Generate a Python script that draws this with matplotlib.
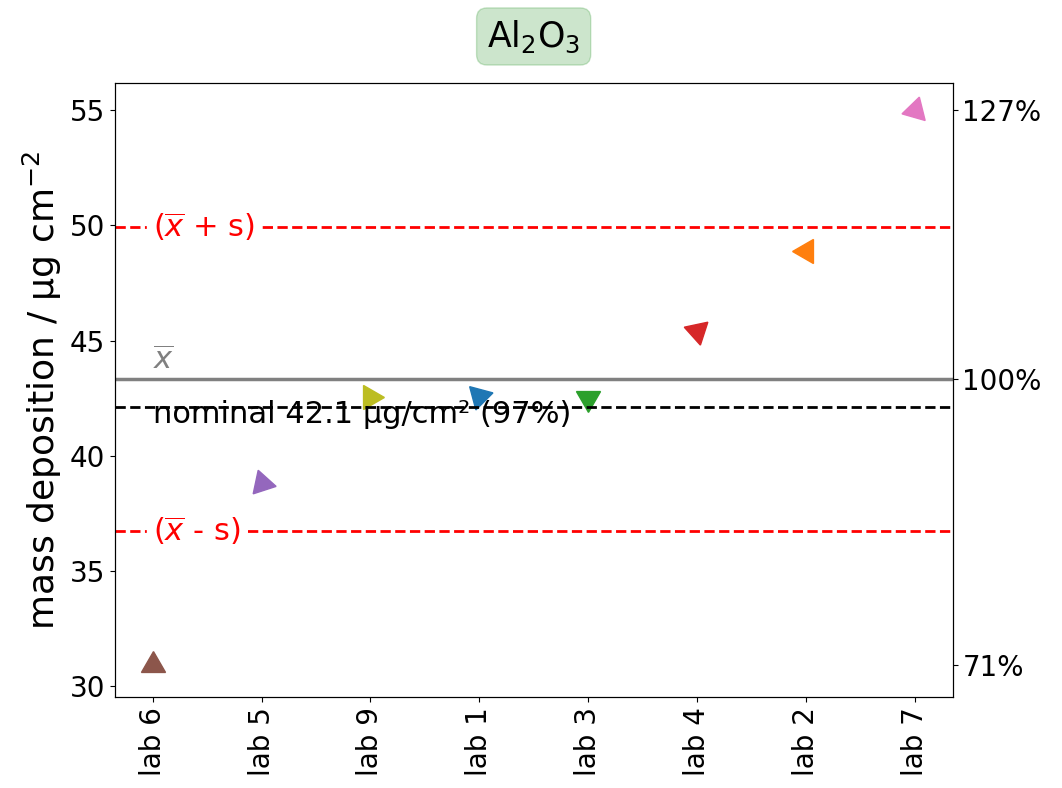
import numpy as np
import matplotlib.pyplot as plt

# === Dane ===
labs = ["lab 6", "lab 5", "lab 9", "lab 1", "lab 3", "lab 4", "lab 2", "lab 7"]
values = [30.9, 38.8, 42.55, 42.6, 42.5, 45.4, 48.9, 55.0]
colors = ["tab:brown", "tab:purple", "tab:olive", "tab:blue",
          "tab:green", "tab:red", "tab:orange", "tab:pink"]
angles = [0, 18, 30, 45, 60, 72, 90, -16]
nominal = 42.1

mean = np.mean(values)
std = np.std(values)

fig, ax = plt.subplots(figsize=(10.62, 7.88), dpi=100)
fig.subplots_adjust(left=0.108, right=0.897, top=0.895, bottom=0.115)

x = np.arange(len(labs))
for xi, v, c, a in zip(x, values, colors, angles):
    ax.plot(xi, v, marker=(3, 0, a), color=c, markersize=20, linestyle='none')

# linie średniej, +/- s oraz nominalna
ax.axhline(mean, color='gray', lw=2.5)
ax.axhline(mean + std, color='red', ls='--', lw=2)
ax.axhline(mean - std, color='red', ls='--', lw=2)
ax.axhline(nominal, color='black', ls='--', lw=2)

ax.text(0, mean + std, r"($\overline{x}$ + s)", color='red', fontsize=22,
        va='center', ha='left', backgroundcolor='white')
ax.text(0, mean - std, r"($\overline{x}$ - s)", color='red', fontsize=22,
        va='center', ha='left', backgroundcolor='white')
ax.text(0, mean + 0.15, r"$\overline{x}$", color='gray', fontsize=22,
        va='bottom', ha='left')
ax.text(0, nominal + 0.3, "nominal %.1f µg/cm² (%d%%)" % (nominal, round(100 * nominal / mean)),
        color='black', fontsize=22, va='top', ha='left')

ax.set_xticks(x)
ax.set_xticklabels(labs, rotation=90, fontsize=20)
ax.tick_params(axis='y', labelsize=20)
ax.set_ylabel(r"mass deposition / µg cm$^{-2}$", fontsize=26)
ax.set_ylim(29.5, 56.2)
ax.set_xlim(-0.35, 7.35)

ax2 = ax.twinx()
ax2.set_ylim(ax.get_ylim())
rt = [min(values), mean, max(values)]
ax2.set_yticks(rt)
ax2.set_yticklabels(["%d%%" % round(100 * v / mean) for v in rt], fontsize=20)

ax.set_title(r"Al$_2$O$_3$", fontsize=25, pad=26,
             bbox=dict(boxstyle='round', facecolor='green', edgecolor='green', alpha=0.2))

plt.savefig("out.png", dpi=100)
